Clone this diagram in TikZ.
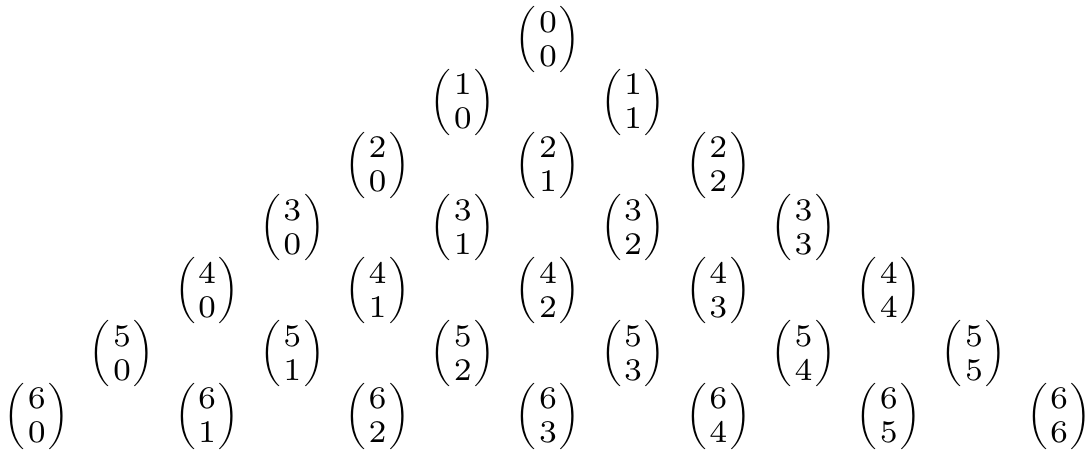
\documentclass[tikz,border=0pt]{standalone}
\usepackage{amsmath}
\usepackage{graphicx}
\newcommand{\bnmL}{\vcenter{\hbox{\scalebox{1.38}{$\biggl($}}}}
\newcommand{\bnmR}{\vcenter{\hbox{\scalebox{1.38}{$\biggr)$}}}}
\newcommand{\bnmD}[1]{\hbox{\scalebox{2.25}{$\scriptstyle #1$}}}
\newcommand{\bnm}[2]{$\bnmL\kern1.4pt\raise0.3pt\hbox{$\vcenter{\baselineskip=17pt\lineskiplimit=-100pt\bnmD{#1}\bnmD{#2}}$}\kern1.4pt\bnmR$}
\begin{document}
\begin{tikzpicture}[x=0.5pt,y=-0.5pt,
  entry/.style={inner sep=0pt}]
\useasboundingbox (0,0) rectangle (1087,452);
\foreach \r in {0,...,6}{
  \foreach \k in {0,...,\r}{
    \node[entry] (b\r-\k) at ({548+(2*\k-\r)*85.2},{39.5+\r*62.8}) {\bnm{\r}{\k}};
  }
}
\end{tikzpicture}
\end{document}
